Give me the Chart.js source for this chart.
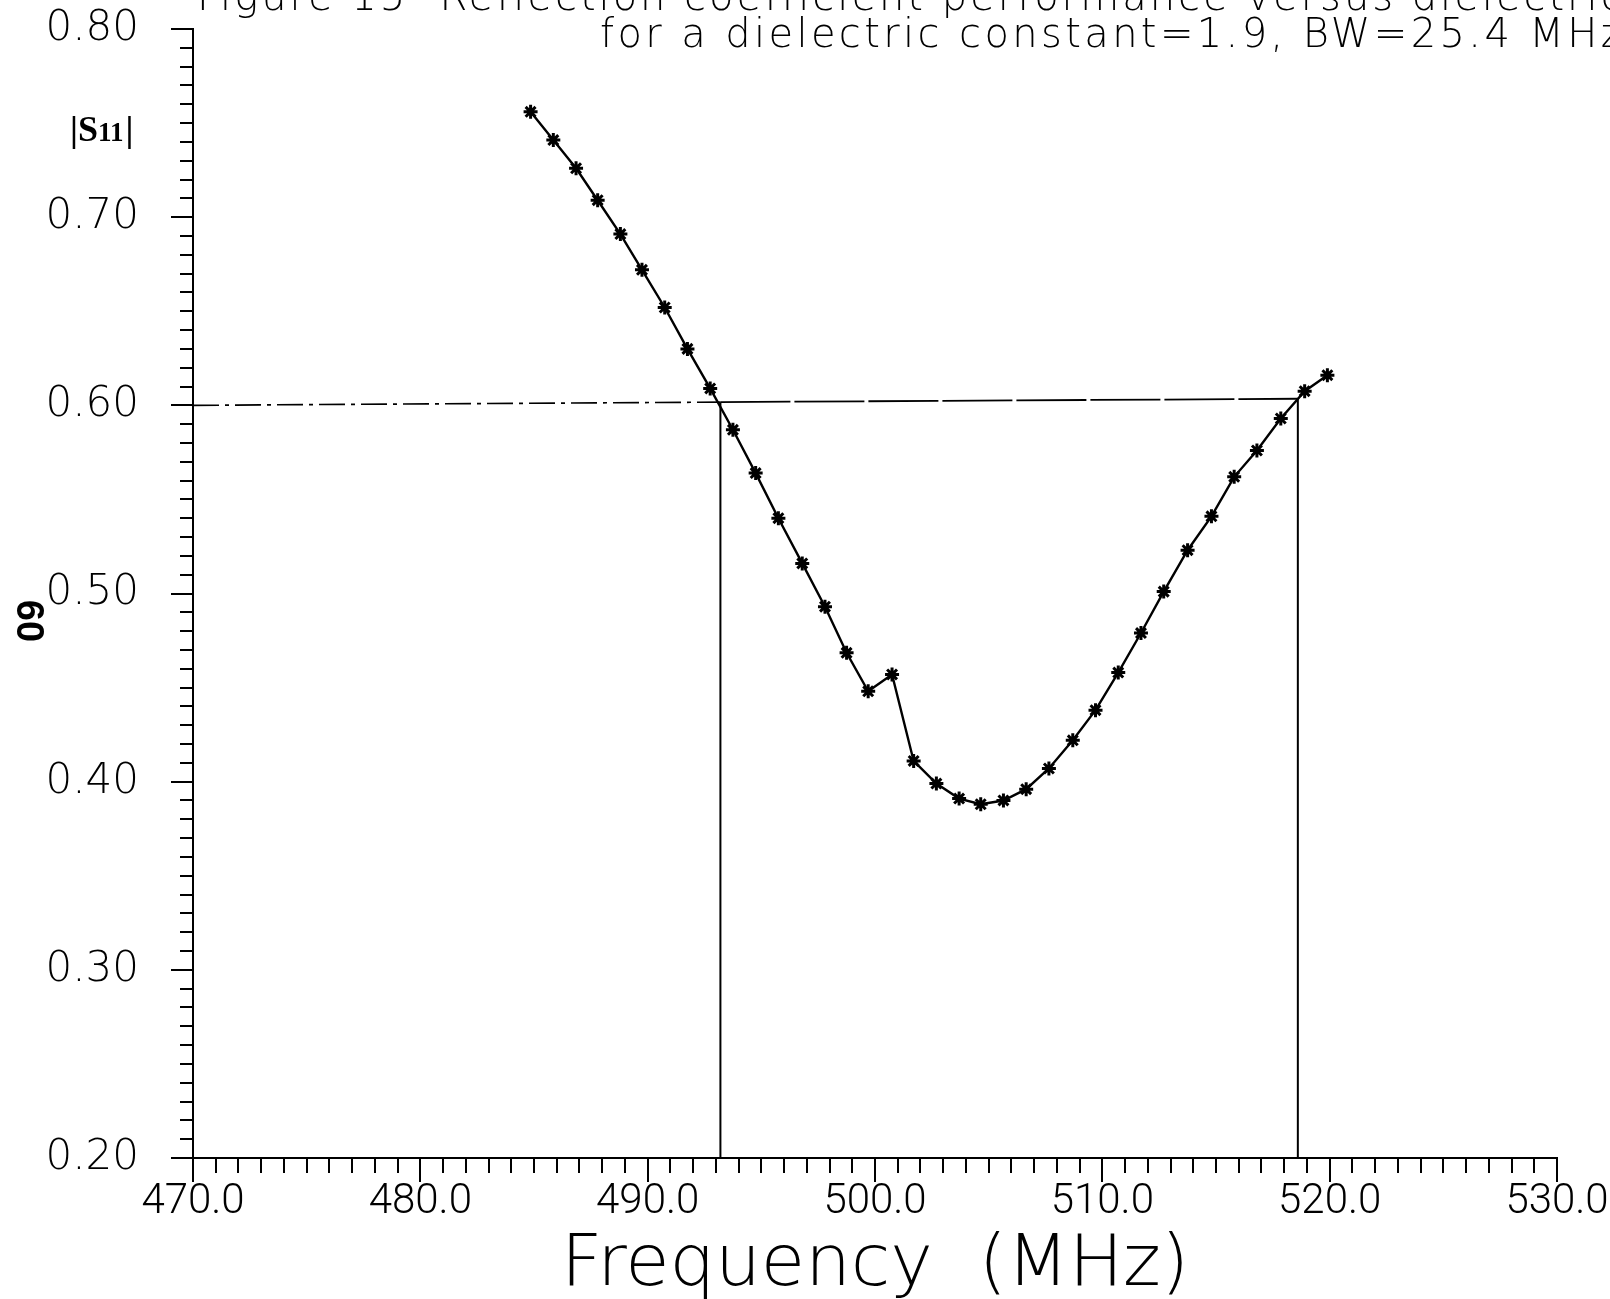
<!DOCTYPE html>
<html>
<head>
<meta charset="utf-8">
<title>|S11| versus frequency</title>
<script src="https://cdn.jsdelivr.net/npm/chart.js@4.4.1/dist/chart.umd.min.js"></script>
<style>
  html, body { margin: 0; padding: 0; background: #fff; }
  #wrap { width: 1610px; height: 1299px; position: relative; }
</style>
</head>
<body>
<div id="wrap"><canvas id="s11-chart"></canvas></div>
<script>
// Measured |S11| per frequency step (MHz)
const freqs = [484.85, 485.85, 486.85, 487.8, 488.8, 489.75, 490.75, 491.75, 492.75, 493.75,
               494.75, 495.75, 496.8, 497.8, 498.75, 499.7, 500.75, 501.7, 502.7, 503.7,
               504.65, 505.65, 506.65, 507.65, 508.7, 509.7, 510.7, 511.7, 512.7, 513.75,
               514.8, 515.8, 516.8, 517.85, 518.9, 519.9];
const s11 = [0.756, 0.741, 0.726, 0.709, 0.691, 0.672, 0.652, 0.630, 0.609, 0.587,
             0.564, 0.540, 0.516, 0.493, 0.4685, 0.448, 0.457, 0.411, 0.399, 0.391,
             0.388, 0.390, 0.396, 0.407, 0.422, 0.438, 0.458, 0.479, 0.501, 0.523,
             0.541, 0.562, 0.576, 0.593, 0.6075, 0.616];

// 0.6 reference level and the band edges where the curve crosses it
const bandwidth = 25.4;
const bandLow = 493.2;
const bandHigh = bandLow + bandwidth;
const levelX = [470, bandLow, bandHigh];
const levelY = [0.600, 0.6017, 0.6035];
const axisFloor = 0.20;

const xTicks = { min: 470, max: 530, major: 10, minor: 1 };
const yTicks = { min: 0.20, max: 0.80, major: 0.1, minor: 0.01 };

const titleLines = [
    'Figure 15  Reflection coefficient performance versus dielectric',
    'for a dielectric constant=1.9, BW=25.4 MHz'
];

const FAMILY = '"DejaVu Sans", "Noto Sans", sans-serif';
const yTickFont = { family: FAMILY, size: 42, weight: '200' };
const xTickFont = { family: 'Roboto, ' + FAMILY, size: 42, weight: '300' };

const toPoints = (xs, ys) => xs.map((x, i) => ({ x: x, y: ys[i] }));

const data = {
    datasets: [
        {
            label: '|S11|',
            data: toPoints(freqs, s11),
            showLine: true,
            borderColor: '#000',
            borderWidth: 2.4,
            pointStyle: 'star',
            pointRadius: 7,
            pointBorderWidth: 3,
            pointBorderColor: '#000',
            pointBackgroundColor: '#000'
        },
        {
            label: 'level left',
            data: toPoints(levelX.slice(0, 2), levelY.slice(0, 2)),
            showLine: true,
            borderColor: '#000',
            borderWidth: 1.6,
            borderDash: [26, 6, 4, 6],
            pointRadius: 0
        },
        {
            label: 'level right',
            data: toPoints(levelX.slice(1), levelY.slice(1)),
            showLine: true,
            borderColor: '#000',
            borderWidth: 1.8,
            borderDash: [70, 4],
            pointRadius: 0
        },
        {
            label: 'band low',
            data: [{ x: bandLow, y: axisFloor }, { x: bandLow, y: levelY[1] }],
            showLine: true,
            borderColor: '#000',
            borderWidth: 2,
            pointRadius: 0
        },
        {
            label: 'band high',
            data: [{ x: bandHigh, y: axisFloor }, { x: bandHigh, y: levelY[2] }],
            showLine: true,
            borderColor: '#000',
            borderWidth: 2,
            pointRadius: 0
        }
    ]
};

// Title, |S11| tag and the rotated page number
const pageText = {
    id: 'pageText',
    afterDraw(chart) {
        const ctx = chart.ctx;
        ctx.save();
        ctx.fillStyle = '#000';
        ctx.textBaseline = 'alphabetic';
        ctx.textAlign = 'left';

        ctx.font = '200 40px ' + FAMILY;
        const spans = [[197, 1625, 10], [600, 1625, 47]];
        titleLines.forEach((line, i) => {
            const [x0, x1, y] = spans[i];
            ctx.letterSpacing = '0px';
            const w = ctx.measureText(line).width;
            ctx.letterSpacing = ((x1 - x0 - w) / line.length) + 'px';
            ctx.fillText(line, x0, y);
        });
        ctx.letterSpacing = '0px';

        ctx.font = 'bold 36px "Liberation Serif", serif';
        ctx.fillText('|S', 70, 141);
        let x = 70 + ctx.measureText('|S').width;
        ctx.font = 'bold 27px "Liberation Serif", serif';
        ctx.fillText('11', x, 141);
        x += ctx.measureText('11').width + 2;
        ctx.font = 'bold 36px "Liberation Serif", serif';
        ctx.fillText('|', x, 141);

        ctx.translate(27, 621);
        ctx.rotate(Math.PI / 2);
        ctx.font = 'bold 38px "Liberation Sans", sans-serif';
        ctx.textAlign = 'center';
        ctx.textBaseline = 'middle';
        ctx.fillText('60', 0, 0);
        ctx.restore();
    }
};

const config = {
    type: 'scatter',
    data: data,
    options: {
        responsive: true,
        maintainAspectRatio: false,
        animation: false,
        layout: { padding: { top: 29, right: 53, left: 0, bottom: 0 } },
        plugins: {
            legend: { display: false },
            tooltip: { enabled: false }
        },
        scales: {
            x: {
                type: 'linear',
                position: 'bottom',
                weight: 1,
                min: xTicks.min,
                max: xTicks.max,
                ticks: {
                    stepSize: xTicks.major,
                    callback: v => v.toFixed(1),
                    color: '#000',
                    font: xTickFont,
                    padding: -5,
                    maxRotation: 0,
                    autoSkip: false
                },
                grid: { drawOnChartArea: false, tickLength: 24, color: '#000', lineWidth: 2 },
                border: { display: true, color: '#000', width: 2 },
                title: {
                    display: true,
                    text: 'Frequency  (MHz)',
                    color: '#000',
                    font: { family: FAMILY, size: 72, weight: '200', lineHeight: 1.0 },
                    padding: { top: 0, bottom: -3 }
                },
                afterFit(s) { s.height = 141; s.paddingLeft = 0; s.paddingRight = 0; }
            },
            xMinor: {
                type: 'linear',
                position: 'bottom',
                weight: 0,
                min: xTicks.min,
                max: xTicks.max,
                ticks: { display: false, stepSize: xTicks.minor, maxTicksLimit: 100, autoSkip: false },
                grid: { drawOnChartArea: false, tickLength: 15, color: '#000', lineWidth: 2 },
                border: { display: false },
                afterFit(s) { s.height = 0; s.paddingLeft = 0; s.paddingRight = 0; }
            },
            y: {
                type: 'linear',
                position: 'left',
                weight: 1,
                min: yTicks.min,
                max: yTicks.max,
                ticks: {
                    stepSize: yTicks.major,
                    callback: v => v.toFixed(2),
                    color: '#000',
                    font: yTickFont,
                    padding: 32,
                    autoSkip: false
                },
                grid: { drawOnChartArea: false, tickLength: 22, color: '#000', lineWidth: 2 },
                border: { display: true, color: '#000', width: 2 },
                afterFit(s) { s.width = 193; s.paddingTop = 0; s.paddingBottom = 0; }
            },
            yMinor: {
                type: 'linear',
                position: 'left',
                weight: 0,
                min: yTicks.min,
                max: yTicks.max,
                ticks: { display: false, stepSize: yTicks.minor, maxTicksLimit: 100, autoSkip: false },
                grid: { drawOnChartArea: false, tickLength: 13, color: '#000', lineWidth: 2 },
                border: { display: false },
                afterFit(s) { s.width = 0; s.paddingTop = 0; s.paddingBottom = 0; }
            }
        }
    },
    plugins: [pageText]
};

const chart = new Chart(document.getElementById('s11-chart'), config);
</script>
</body>
</html>
